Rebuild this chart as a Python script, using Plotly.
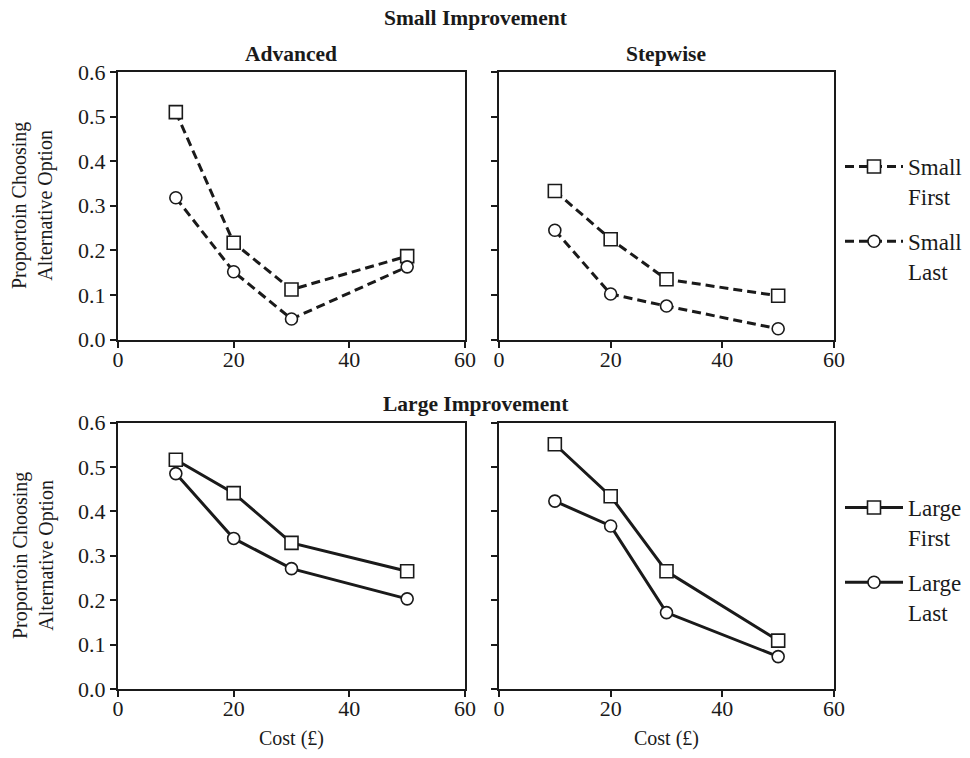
import plotly.graph_objects as go

# ---------------- data ----------------
cost = [10, 20, 30, 50]

adv_small_first = [0.510, 0.217, 0.112, 0.187]
adv_small_last = [0.318, 0.152, 0.046, 0.163]
step_small_first = [0.333, 0.225, 0.135, 0.098]
step_small_last = [0.245, 0.102, 0.075, 0.024]

adv_large_first = [0.516, 0.441, 0.329, 0.265]
adv_large_last = [0.485, 0.339, 0.271, 0.203]
step_large_first = [0.551, 0.434, 0.265, 0.109]
step_large_last = [0.423, 0.367, 0.172, 0.073]

x_ticks = [0, 20, 40, 60]
y_ticks = [0.0, 0.1, 0.2, 0.3, 0.4, 0.5, 0.6]

series_names = ["Small<br>First", "Small<br>Last", "Large<br>First", "Large<br>Last"]
panel_titles = ["Advanced", "Stepwise"]
row_titles = ["Small Improvement", "Large Improvement"]
x_title = "Cost (£)"
y_title = "Proportoin Choosing<br>Alternative Option"

# ---------------- style ----------------
W, H = 970, 758
INK = "#1a1a1a"
FONT = "Liberation Serif"
LW = 3


def px(x):
    return x / W


def py(y):
    return 1 - y / H


fig = go.Figure()


def add(xa, ya, y, name, symbol, size, dash, legend, show, group):
    fig.add_trace(go.Scatter(
        x=cost, y=y, name=name, mode="lines+markers",
        xaxis=xa, yaxis=ya,
        line=dict(color=INK, width=LW, dash=dash),
        marker=dict(symbol=symbol, size=size, color="white",
                    line=dict(color=INK, width=1.6)),
        legend=legend, showlegend=show, legendgroup=group,
        cliponaxis=False,
    ))


DASH = "9px,5px"
SQ, CI = 13, 12
# top row (small improvement)
add("x", "y", adv_small_first, series_names[0], "square", SQ, DASH, "legend", False, "a")
add("x", "y", adv_small_last, series_names[1], "circle", CI, DASH, "legend", False, "b")
add("x2", "y2", step_small_first, series_names[0], "square", SQ, DASH, "legend", True, "a")
add("x2", "y2", step_small_last, series_names[1], "circle", CI, DASH, "legend", True, "b")
# bottom row (large improvement)
add("x3", "y3", adv_large_first, series_names[2], "square", SQ, "solid", "legend2", False, "c")
add("x3", "y3", adv_large_last, series_names[3], "circle", CI, "solid", "legend2", False, "d")
add("x4", "y4", step_large_first, series_names[2], "square", SQ, "solid", "legend2", True, "c")
add("x4", "y4", step_large_last, series_names[3], "circle", CI, "solid", "legend2", True, "d")

left_dom = [px(118), px(465)]
right_dom = [px(499), px(834)]
top_dom = [py(339.5), py(72)]
bot_dom = [py(689), py(422.5)]

tickfont = dict(family=FONT, size=22, color=INK)


def xax(domain, anchor):
    return dict(domain=domain, anchor=anchor, range=[0, 60],
                tickmode="array", tickvals=x_ticks,
                ticktext=[str(v) for v in x_ticks],
                showgrid=False, zeroline=False, showline=True,
                linecolor=INK, linewidth=2, mirror=True,
                ticks="outside", ticklen=6, tickwidth=1.5, tickcolor=INK,
                ticklabelstandoff=-7,
                tickfont=tickfont, fixedrange=True, automargin=False)


def yax(domain, anchor, labels):
    return dict(domain=domain, anchor=anchor, range=[0, 0.6],
                tickmode="array", tickvals=y_ticks,
                ticktext=[f"{v:.1f}" for v in y_ticks] if labels else [""] * len(y_ticks),
                showgrid=False, zeroline=False, showline=True,
                linecolor=INK, linewidth=2, mirror=True,
                ticks="outside", ticklen=6, tickwidth=1.5, tickcolor=INK,
                tickfont=tickfont, fixedrange=True, automargin=False)


legend_common = dict(
    font=dict(family=FONT, size=23, color=INK),
    bgcolor="rgba(0,0,0,0)", borderwidth=0,
    xanchor="left", yanchor="top", valign="top",
    tracegroupgap=12, itemwidth=58,
)

fig.update_layout(
    width=W, height=H,
    margin=dict(l=0, r=0, t=0, b=0, pad=0, autoexpand=False),
    paper_bgcolor="white", plot_bgcolor="white",
    font=dict(family=FONT, size=20, color=INK),
    xaxis=xax(left_dom, "y"), yaxis=yax(top_dom, "x", True),
    xaxis2=xax(right_dom, "y2"), yaxis2=yax(top_dom, "x2", False),
    xaxis3=xax(left_dom, "y3"), yaxis3=yax(bot_dom, "x3", True),
    xaxis4=xax(right_dom, "y4"), yaxis4=yax(bot_dom, "x4", False),
    legend=dict(x=px(840), y=py(145), **legend_common),
    legend2=dict(x=px(840), y=py(486), **legend_common),
    showlegend=True,
)

ann = []
bold = dict(family=FONT, size=21.5, color=INK)
ann.append(dict(text=f"<b>{row_titles[0]}</b>", x=px(476), y=py(18)))
ann.append(dict(text=f"<b>{panel_titles[0]}</b>", x=px(291), y=py(54)))
ann.append(dict(text=f"<b>{panel_titles[1]}</b>", x=px(666), y=py(54)))
ann.append(dict(text=f"<b>{row_titles[1]}</b>", x=px(476), y=py(404)))
annotations = []
for a in ann:
    annotations.append(dict(xref="paper", yref="paper", showarrow=False,
                            xanchor="center", yanchor="middle",
                            font=bold, **a))
for xc in (291, 666):
    annotations.append(dict(xref="paper", yref="paper", showarrow=False,
                            text=x_title, x=px(xc), y=py(738),
                            xanchor="center", yanchor="middle",
                            font=dict(family=FONT, size=20, color=INK)))
for yc in (206, 556):
    annotations.append(dict(xref="paper", yref="paper", showarrow=False,
                            text=y_title, x=px(33), y=py(yc), textangle=-90,
                            xanchor="center", yanchor="middle",
                            font=dict(family=FONT, size=20, color=INK)))
fig.update_layout(annotations=annotations)

fig.write_html("out.html",
               config={"displayModeBar": False},
               post_script="document.body.style.margin='0';document.body.style.padding='0';")
